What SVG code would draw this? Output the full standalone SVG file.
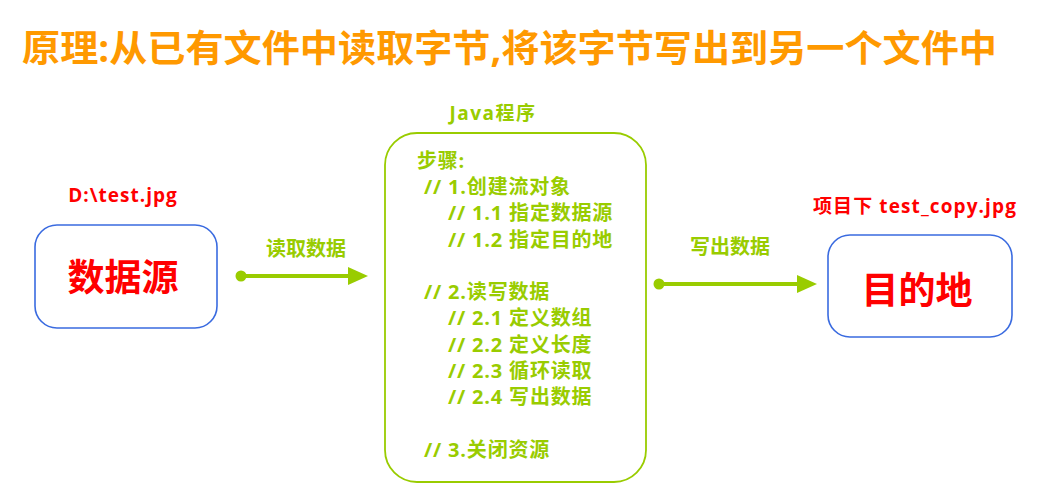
<svg xmlns="http://www.w3.org/2000/svg" width="1040" height="497" viewBox="0 0 1040 497">
<style>
text{font-family:"Open Sans","Noto Sans CJK SC",sans-serif;font-weight:bold;dominant-baseline:central}
.title{fill:#FF9900;font-size:37px}
.red{fill:#FF0000}
.grn{fill:#99CC00}
.step{fill:#99CC00;font-size:20px;letter-spacing:0.8px}
.box{fill:#fff;stroke:#3A6BE0;stroke-width:1.6}
.jbox{fill:#fff;stroke:#99CC00;stroke-width:1.8}
.conn{stroke:#99CC00;stroke-width:4;fill:none}
</style>
<defs>
<marker id="ah" markerWidth="20" markerHeight="20" refX="0" refY="9" markerUnits="userSpaceOnUse" orient="auto">
<path d="M0,0 L20,9 L0,18 Z" fill="#99CC00"/>
</marker>
</defs>
<rect width="1040" height="497" fill="#fff"/>
<text class="title" x="22" y="47" textLength="975" lengthAdjust="spacingAndGlyphs">原理:从已有文件中读取字节,将该字节写出到另一个文件中</text>

<g id="source">
<text class="red" x="123" y="195" font-size="19" letter-spacing="1" text-anchor="middle">D:\test.jpg</text>
<rect class="box" x="35" y="225" width="182" height="103" rx="22"/>
<text class="red" x="123" y="276" font-size="37" text-anchor="middle">数据源</text>
</g>

<g id="java">
<text class="grn" x="493" y="113" font-size="19" letter-spacing="1.5" text-anchor="middle">Java程序</text>
<rect class="jbox" x="385" y="133" width="261" height="349" rx="32"/>
<text class="step" x="417" y="160">步骤:</text>
<text class="step" x="424" y="186">// 1.创建流对象</text>
<text class="step" x="448" y="212">// 1.1 指定数据源</text>
<text class="step" x="448" y="239">// 1.2 指定目的地</text>
<text class="step" x="424" y="291">// 2.读写数据</text>
<text class="step" x="448" y="317">// 2.1 定义数组</text>
<text class="step" x="448" y="344">// 2.2 定义长度</text>
<text class="step" x="448" y="370">// 2.3 循环读取</text>
<text class="step" x="448" y="396">// 2.4 写出数据</text>
<text class="step" x="424" y="449">// 3.关闭资源</text>
</g>

<g id="dest">
<text class="red" x="915" y="206" font-size="19" letter-spacing="1.1" text-anchor="middle">项目下 test_copy.jpg</text>
<rect class="box" x="828" y="235" width="184" height="102" rx="22"/>
<text class="red" x="917" y="289" font-size="37" text-anchor="middle">目的地</text>
</g>

<g id="connectors">
<circle cx="241" cy="276" r="5.5" fill="#99CC00"/>
<line class="conn" x1="241" y1="276" x2="348" y2="276" marker-end="url(#ah)"/>
<text class="grn" x="306" y="248" font-size="20" text-anchor="middle">读取数据</text>
<circle cx="659" cy="284" r="5.5" fill="#99CC00"/>
<line class="conn" x1="659" y1="284" x2="797" y2="284" marker-end="url(#ah)"/>
<text class="grn" x="730" y="246" font-size="20" text-anchor="middle">写出数据</text>
</g>
</svg>
